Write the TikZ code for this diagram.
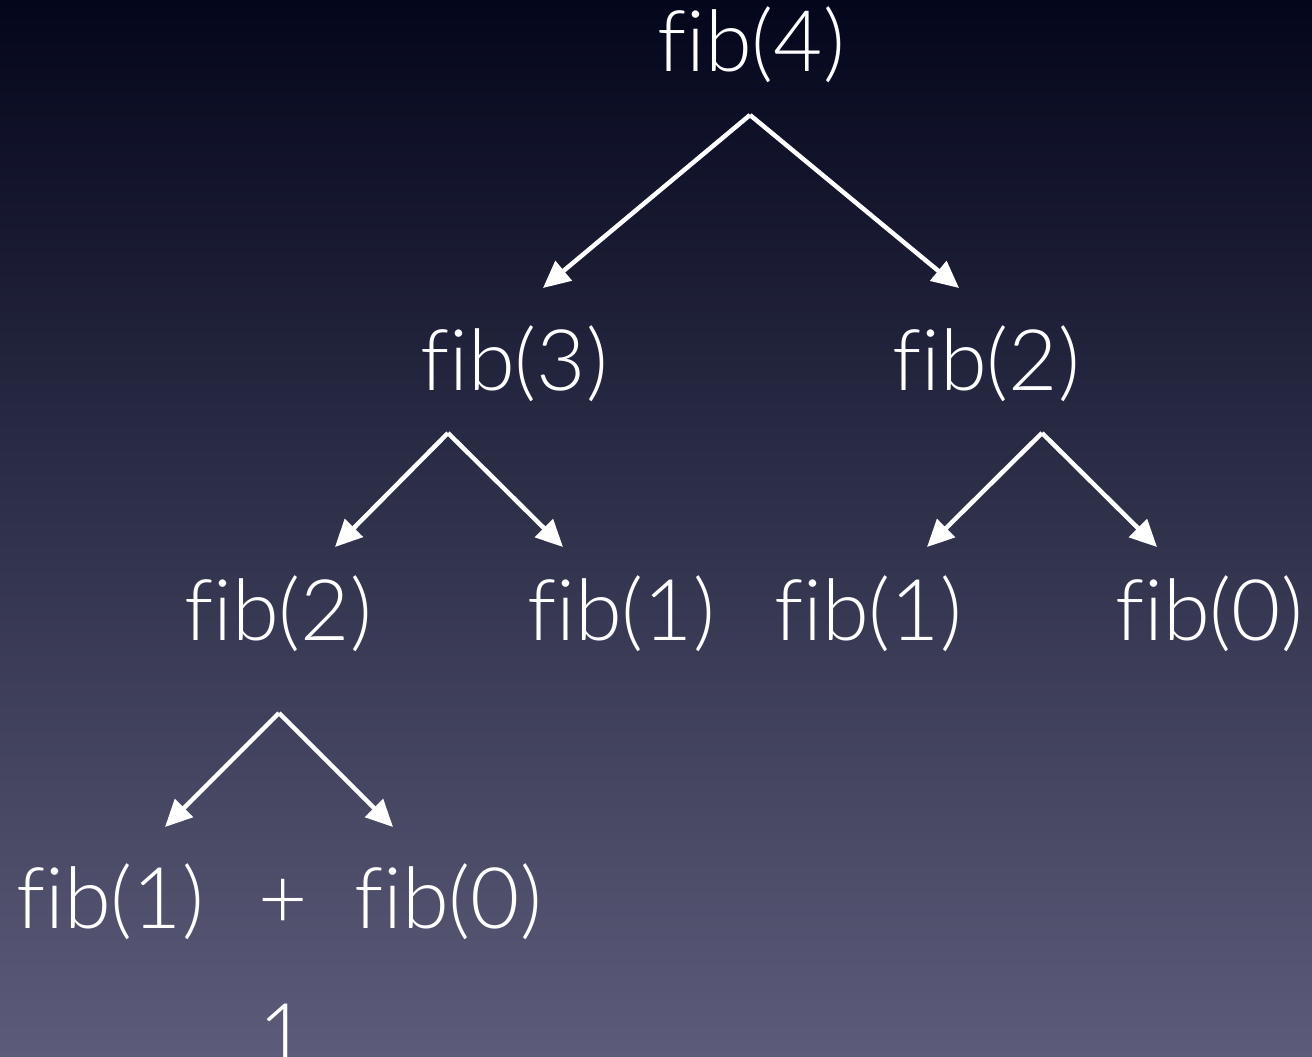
\documentclass[tikz,border=0pt]{standalone}
\usepackage{fontspec}
\setmainfont{Lato Light}[Ligatures={NoCommon}]
\usetikzlibrary{arrows.meta}
\definecolor{bgtop}{RGB}{4,6,28}
\definecolor{bgbot}{RGB}{92,92,122}
\tikzset{
  lbl/.style={text=white, anchor=base, inner sep=0pt, font=\fontsize{85}{96}\selectfont},
  arr/.style={draw=white, line width=4.5pt, -{Triangle[length=27pt,width=25pt]}, line join=miter}
}
\begin{document}
\begin{tikzpicture}[x=1pt,y=-1pt]
\useasboundingbox (0,0) rectangle (1312,1057);
\clip (0,0) rectangle (1312,1057);
\shade[top color=bgtop, bottom color=bgbot, shading angle=0] (0,0) rectangle (1312,1057);
% nodes
\node[lbl] (f4) at (751,72) {fib(4)};
\node[lbl] (f3) at (514,390) {fib(3)};
\node[lbl] (f2r) at (986,390) {fib(2)};
\node[lbl] (f2l) at (278,640) {fib(2)};
\node[lbl] (f1a) at (621,640) {fib(1)};
\node[lbl] (f1b) at (868,640) {fib(1)};
\node[lbl] (f0a) at (1209,640) {fib(0)};
\node[lbl] (f1c) at (110,928) {fib(1)};
\node[lbl] (plus) at (283,928) {+};
\node[lbl] (f0b) at (448,928) {fib(0)};
\node[lbl] (one) at (283,1064) {1};
% arrow end points
\coordinate (a4) at (750,115);
\coordinate (t3) at (543,288);
\coordinate (t2r) at (959,288);
\coordinate (a3) at (448,433);
\coordinate (t2l) at (335,547);
\coordinate (t1a) at (563,547);
\coordinate (a2r) at (1042,433);
\coordinate (t1b) at (927,547);
\coordinate (t0a) at (1157,547);
\coordinate (a2l) at (279,713);
\coordinate (t1c) at (165,827);
\coordinate (t0b) at (393,827);
% connectors
\draw[arr] (a4) -- (t3);
\draw[arr] (a4) -- (t2r);
\draw[arr] (a3) -- (t2l);
\draw[arr] (a3) -- (t1a);
\draw[arr] (a2r) -- (t1b);
\draw[arr] (a2r) -- (t0a);
\draw[arr] (a2l) -- (t1c);
\draw[arr] (a2l) -- (t0b);
\end{tikzpicture}
\end{document}
